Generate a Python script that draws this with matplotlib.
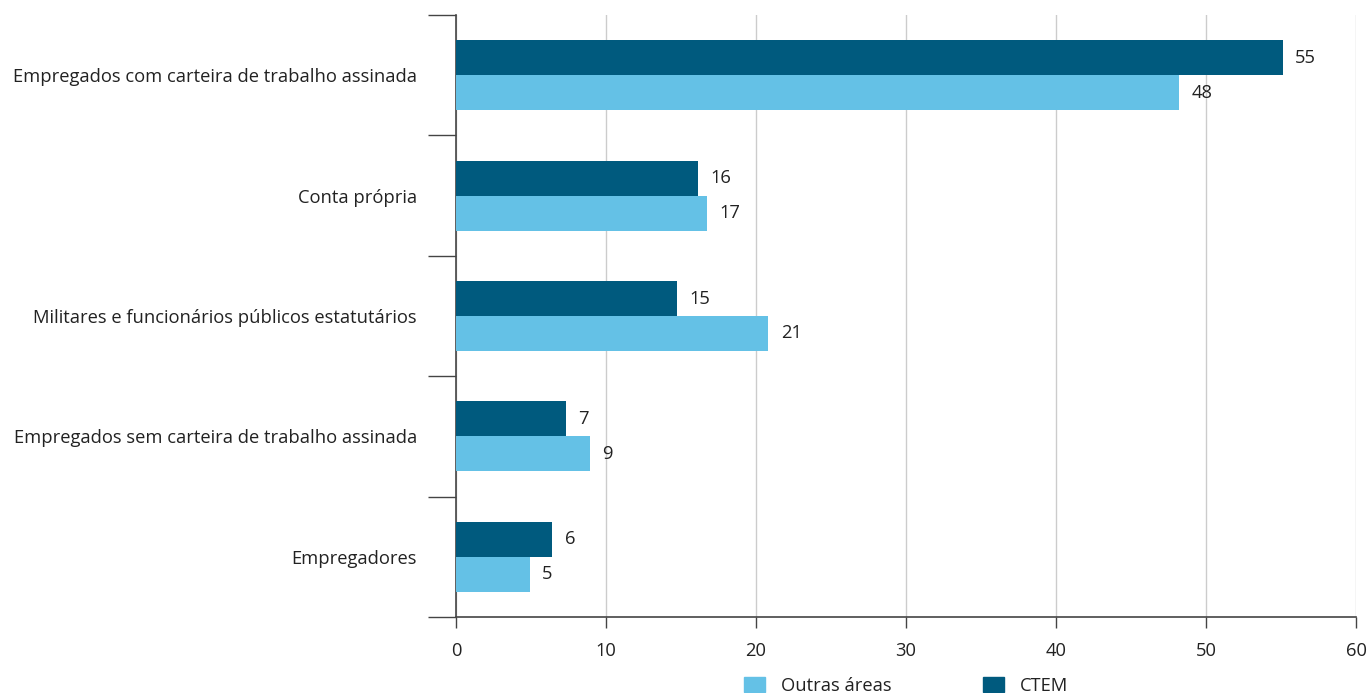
import numpy as np
import matplotlib.pyplot as plt
from matplotlib.patches import Patch

plt.rcParams['font.family'] = ['Open Sans', 'DejaVu Sans']

# Data (percent)
categories = [
    'Empregados com carteira de trabalho assinada',
    'Conta própria',
    'Militares e funcionários públicos estatutários',
    'Empregados sem carteira de trabalho assinada',
    'Empregadores',
]
ctem = [55.1, 16.1, 14.7, 7.3, 6.4]
outras = [48.2, 16.7, 20.8, 8.9, 4.9]

COLOR_CTEM = '#005a7e'
COLOR_OUTRAS = '#64c1e6'
TEXT = '#222222'
FS = 13.2

fig = plt.figure(figsize=(13.67, 6.93), dpi=100)
ax = fig.add_axes([456 / 1367, 76 / 693, 900 / 1367, 602 / 693])

y = np.arange(len(categories))
h = 0.29
off = 0.145
ax.barh(y - off, ctem, height=h, color=COLOR_CTEM, zorder=3)
ax.barh(y + off, outras, height=h, color=COLOR_OUTRAS, zorder=3)

for yi, v in zip(y, ctem):
    ax.text(v + 0.85, yi - off, f'{round(v)}', va='center', ha='left',
            fontsize=FS, color=TEXT)
for yi, v in zip(y, outras):
    ax.text(v + 0.85, yi + off, f'{round(v)}', va='center', ha='left',
            fontsize=FS, color=TEXT)

ax.set_xlim(0, 60)
ax.set_ylim(len(categories) - 0.5, -0.5)
ax.set_xticks(np.arange(0, 61, 10))
ax.xaxis.grid(True, color='#cccccc', linewidth=1, zorder=0)
ax.tick_params(axis='x', length=8, width=1, color='#444444', labelsize=FS,
               labelcolor=TEXT, pad=10)

ax.set_yticks(y)
ax.set_yticklabels(categories)
ax.set_yticks(np.arange(-0.5, len(categories), 1), minor=True)
ax.tick_params(axis='y', which='major', length=0, pad=28, labelsize=FS,
               labelcolor=TEXT)
ax.tick_params(axis='y', which='minor', length=20, width=1, color='#444444')

for s in ['top', 'right']:
    ax.spines[s].set_visible(False)
for s in ['left', 'bottom']:
    ax.spines[s].set_color('#444444')
    ax.spines[s].set_linewidth(1.2)

handles = [Patch(color=COLOR_OUTRAS, label='Outras áreas'),
           Patch(color=COLOR_CTEM, label='CTEM')]
fig.legend(handles=handles, loc='center', bbox_to_anchor=(0.663, 0.01),
           ncol=2, frameon=False, fontsize=FS, handlelength=1.1,
           handleheight=0.85, handletextpad=0.9, columnspacing=5.0,
           labelcolor=TEXT)

fig.savefig('out.png', dpi=100)
